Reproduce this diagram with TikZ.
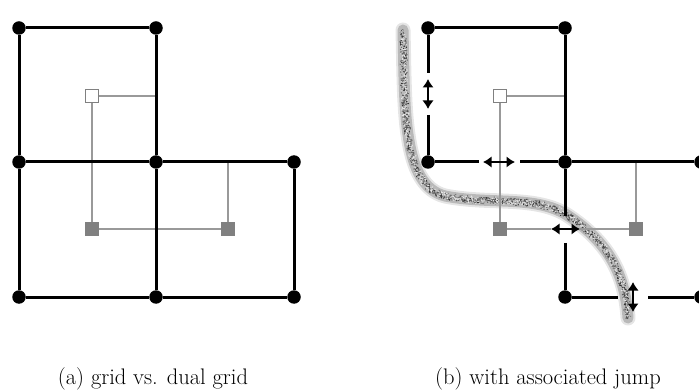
\documentclass[tikz,border=0pt]{standalone}
\usetikzlibrary{arrows.meta,decorations.pathmorphing}
\begin{document}
\begin{tikzpicture}[x=1pt,y=-1pt,
  pdot/.style={circle,fill=black,inner sep=0pt,minimum size=13.5pt},
  dwhite/.style={rectangle,draw=gray,fill=white,line width=1.4pt,inner sep=0pt,minimum size=13pt},
  dgray/.style={rectangle,fill=gray,inner sep=0pt,minimum size=14pt},
  pedge/.style={line width=3pt,black},
  dedge/.style={line width=1.7pt,gray!80},
  jarrow/.style={line width=2.8pt,{Latex[length=8.5pt,width=11.5pt]}-{Latex[length=8.5pt,width=11.5pt]}},
  capt/.style={font=\fontsize{22.5}{27}\selectfont,inner sep=0pt,anchor=base},
  jumpbase/.style={line cap=round,line join=round},
  jumpnoise/.style={line cap=round,line join=round,decorate,decoration={random steps,segment length=1.5pt,amplitude=3.8pt}}
]
\useasboundingbox (0,0) rectangle (699,390);
% ---------- panel (a) ----------
\coordinate (ea) at (156,96);
\coordinate (eb) at (228,162);
\draw[dedge] (92,96) -- (ea);
\draw[dedge] (92,96) -- (92,229) -- (228,229) -- (eb);
\node[pdot] (a11) at (19,28) {};
\node[pdot] (a12) at (156,28) {};
\node[pdot] (a21) at (19,162) {};
\node[pdot] (a22) at (156,162) {};
\node[pdot] (a23) at (294,162) {};
\node[pdot] (a31) at (19,297) {};
\node[pdot] (a32) at (156,297) {};
\node[pdot] (a33) at (294,297) {};
\draw[pedge] (a11) -- (a12);
\draw[pedge] (a11) -- (a21);
\draw[pedge] (a12) -- (a22);
\draw[pedge] (a21) -- (a22);
\draw[pedge] (a22) -- (a23);
\draw[pedge] (a21) -- (a31);
\draw[pedge] (a22) -- (a32);
\draw[pedge] (a23) -- (a33);
\draw[pedge] (a31) -- (a32);
\draw[pedge] (a32) -- (a33);
\node[dwhite] (da1) at (92,96) {};
\node[dgray] (da2) at (92,229) {};
\node[dgray] (da3) at (228,229) {};
\node[capt] (capa) at (153,384) {(a) grid vs. dual grid};
% ---------- panel (b) ----------
% jump set
\pgfmathsetseed{11}
\def\jumppath{(403,30) .. controls (405,110) and (402,185) .. (445,196)
  .. controls (490,205) and (535,195) .. (567,215)
  .. controls (605,240) and (625,270) .. (628,318)}
\draw[jumpbase,line width=15pt,gray!20] \jumppath;
\draw[jumpbase,line width=11pt,gray!55] \jumppath;
\draw[jumpnoise,line width=0.9pt,gray!90!black,dash pattern=on 1pt off 1.5pt] \jumppath;
\draw[jumpnoise,line width=0.9pt,black!80,dash pattern=on 0.9pt off 2pt] \jumppath;
\draw[jumpnoise,line width=0.9pt,white!80!gray,dash pattern=on 1pt off 2pt] \jumppath;
\draw[jumpnoise,line width=0.8pt,black!65,dash pattern=on 0.8pt off 2.5pt] \jumppath;
\draw[jumpnoise,line width=0.7pt,white!70!gray,dash pattern=on 0.7pt off 3pt] \jumppath;
% dual
\coordinate (eb1) at (565,96);
\coordinate (eb2) at (636,162);
\coordinate (g1) at (551,229);
\coordinate (g2) at (580,229);
\draw[dedge] (500,96) -- (eb1);
\draw[dedge] (500,96) -- (500,229) -- (g1);
\draw[dedge] (g2) -- (636,229) -- (eb2);
\node[pdot] (b11) at (428,28) {};
\node[pdot] (b12) at (565,28) {};
\node[pdot] (b21) at (428,162) {};
\node[pdot] (b22) at (565,162) {};
\node[pdot] (b23) at (701,162) {};
\node[pdot] (b32) at (565,297) {};
\node[pdot] (b33) at (701,297) {};
% gap coordinates
\coordinate (v1a) at (428,73);  \coordinate (v1b) at (428,115);
\coordinate (h1a) at (479,162); \coordinate (h1b) at (520,162);
\coordinate (v2a) at (565,216); \coordinate (v2b) at (565,243);
\coordinate (h2a) at (618,297); \coordinate (h2b) at (648,297);
\draw[pedge] (b11) -- (b12);
\draw[pedge] (b11) -- (v1a);
\draw[pedge] (v1b) -- (b21);
\draw[pedge] (b21) -- (h1a);
\draw[pedge] (h1b) -- (b22);
\draw[pedge] (b12) -- (b22);
\draw[pedge] (b22) -- (b23);
\draw[pedge] (b22) -- (v2a);
\draw[pedge] (v2b) -- (b32);
\draw[pedge] (b23) -- (b33);
\draw[pedge] (b32) -- (h2a);
\draw[pedge] (h2b) -- (b33);
% jump arrows
\coordinate (j1a) at (428,79);  \coordinate (j1b) at (428,109);
\coordinate (j2a) at (483,162); \coordinate (j2b) at (515,162);
\coordinate (j3a) at (551,229); \coordinate (j3b) at (580,229);
\coordinate (j4a) at (633,282); \coordinate (j4b) at (633,312);
\draw[jarrow] (j1a) -- (j1b);
\draw[jarrow] (j2a) -- (j2b);
\draw[jarrow] (j3a) -- (j3b);
\draw[jarrow] (j4a) -- (j4b);
\node[dwhite] (db1) at (500,96) {};
\node[dgray] (db2) at (500,229) {};
\node[dgray] (db3) at (636,229) {};
\node[capt] (capb) at (548,384) {(b) with associated jump};
\end{tikzpicture}
\end{document}
